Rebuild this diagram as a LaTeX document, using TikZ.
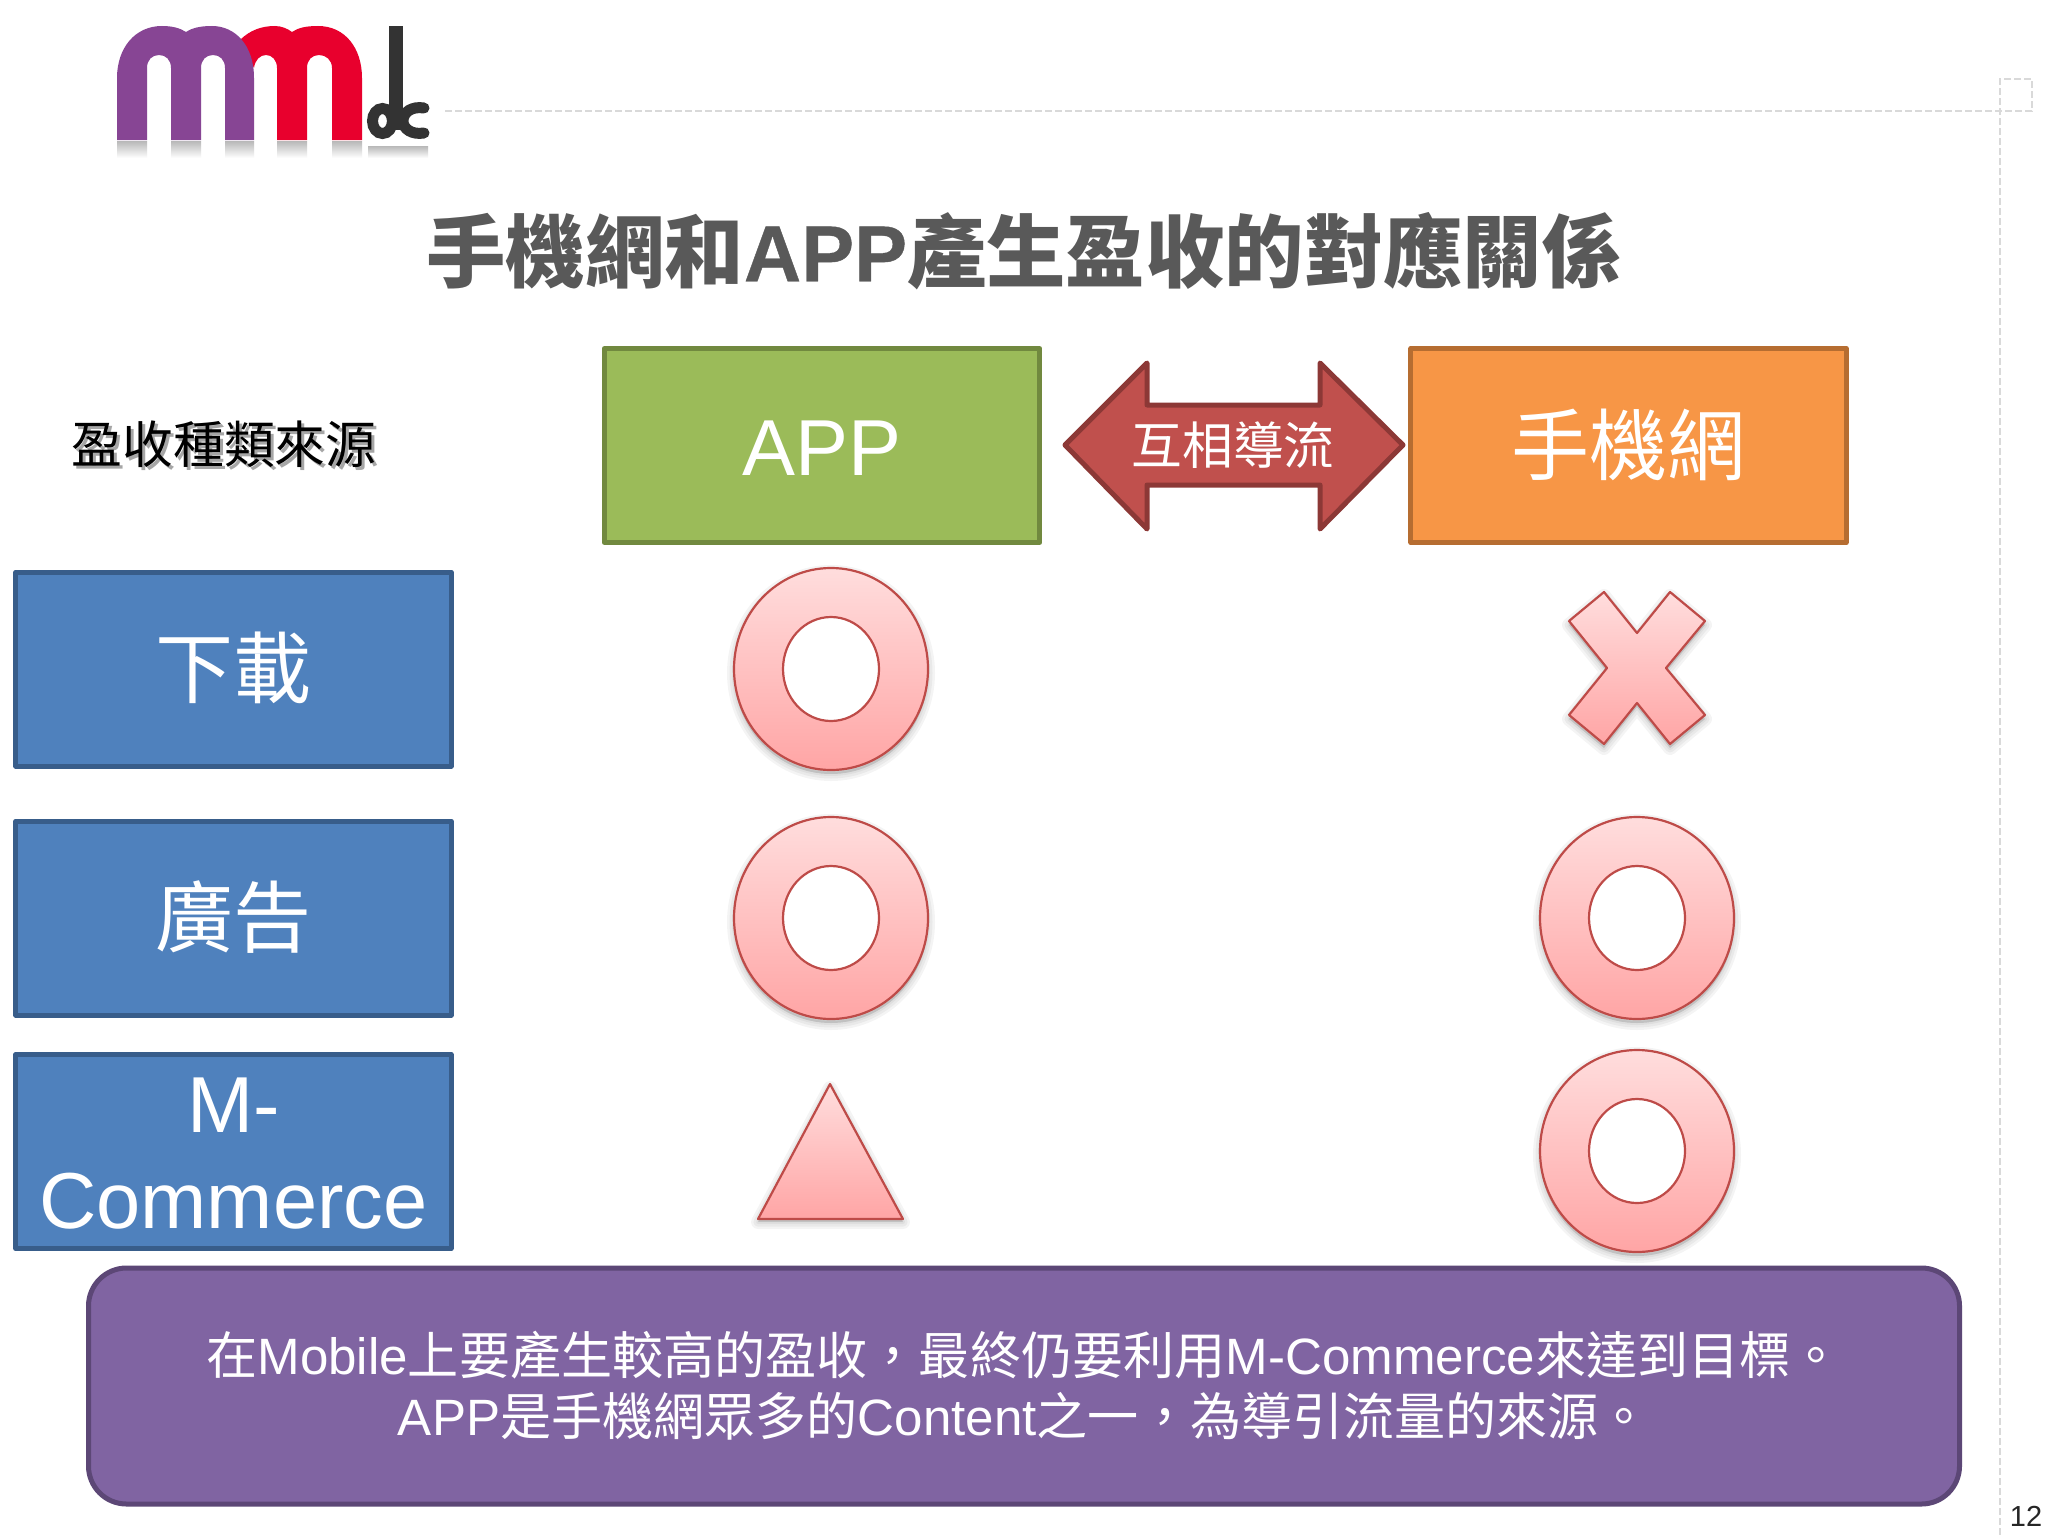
\documentclass[tikz,border=0pt]{standalone}
\usepackage{fontspec}
\setmainfont{Liberation Sans}
\newfontfamily\cjk{Noto Sans CJK TC}
\newfontfamily\latb[BoldFeatures={FakeBold=0.5}]{Liberation Sans}
\newcommand\zh[1]{{\cjk #1}}
\definecolor{ttl}{HTML}{595959}
\definecolor{grn}{HTML}{9BBB59}\definecolor{grnb}{HTML}{71893F}
\definecolor{org}{HTML}{F79646}\definecolor{orgb}{HTML}{B66D31}
\definecolor{blu}{HTML}{4F81BD}\definecolor{blub}{HTML}{385D8A}
\definecolor{redf}{HTML}{C0504D}\definecolor{redb}{HTML}{8C3836}
\definecolor{pur}{HTML}{8064A2}\definecolor{purb}{HTML}{5C4776}
\definecolor{pinkt}{HTML}{FFDDDD}\definecolor{pinkb}{HTML}{FFA5A5}
\definecolor{markb}{HTML}{BE4B48}
\definecolor{logop}{HTML}{874594}\definecolor{logor}{HTML}{E8002D}\definecolor{logok}{HTML}{333333}
\tikzset{
  x=0.5pt,y=-0.5pt,
  boxed/.style={draw,line width=2.5pt,line join=round,inner sep=0pt,minimum width=217.6pt,minimum height=97pt},
  boxtext/.style={inner sep=0pt,text=white,align=center,font=\fontsize{39.7}{48}\selectfont},
  zhbox/.style={inner sep=0pt,text=white,font=\fontsize{39}{48}\selectfont\cjk},
  markline/.style={draw=markb,line width=1.1pt,line join=round},
  markfill/.style={top color=pinkt,bottom color=pinkb},
  guide/.style={draw=black!15,line width=0.6pt,dash pattern=on 3.5pt off 1.5pt},
  reflect/.style={top color=black!28,bottom color=white,draw=none},
}
\newcommand\softshadow[1]{%
  \foreach \w in {7,4.5,2}{\path[fill=black,draw=black,opacity=.045,line width=\w pt,line join=round,yshift=-2pt] #1;}}
\newcommand\ringmark[2]{%
  \begin{scope}[shift={(#1,#2)}]
    \softshadow{(0,0) ellipse [x radius=48.5pt,y radius=50.5pt]}
    \fill[white] (0,0) ellipse [x radius=24pt,y radius=26pt];
    \path[markfill,even odd rule] (0,0) ellipse [x radius=48.5pt,y radius=50.5pt] (0,0) ellipse [x radius=24pt,y radius=26pt];
    \path[markline] (0,0) ellipse [x radius=48.5pt,y radius=50.5pt] (0,0) ellipse [x radius=24pt,y radius=26pt];
  \end{scope}}
\begin{document}
\begin{tikzpicture}
\useasboundingbox (0,0) rectangle (2048,1536);
\fill[white] (0,0) rectangle (2048,1536);
% guides
\draw[guide] (445,111) -- (2032,111) -- (2032,79) -- (2000,79) -- (2000,1536);
% logo reflections
\foreach \a/\b in {117/147,171/201,225/254,277/307,332/362}{\path[reflect] (\a,141) rectangle (\b,158);}
\path[reflect] (368,146) rectangle (428,158);
% logo
\fill[logor] (240,40) .. controls (250,30) and (262,26) .. (275,26) .. controls (282,26) and (288,29) .. (292,32)
  .. controls (298,28) and (305,26) .. (318,26) .. controls (345,26) and (362,48) .. (362,78) -- (362,140) -- (332,140) -- (332,68)
  .. controls (332,60) and (326,55) .. (319,55) .. controls (312,55) and (307,60) .. (307,68) -- (307,140) -- (277,140) -- (277,68)
  .. controls (277,60) and (272,55) .. (266,55) .. controls (260,55) and (255,60) .. (254,68) -- cycle;
\fill[logop] (117,140) -- (117,78) .. controls (117,48) and (135,26) .. (162,26) .. controls (172,26) and (180,28) .. (186,32)
  .. controls (192,28) and (200,26) .. (212,26) .. controls (235,26) and (254,45) .. (254,78) -- (254,140) -- (225,140) -- (225,68)
  .. controls (225,60) and (220,55) .. (213,55) .. controls (206,55) and (201,60) .. (201,68) -- (201,140) -- (171,140) -- (171,68)
  .. controls (171,60) and (166,55) .. (159,55) .. controls (152,55) and (147,60) .. (147,68) -- (147,140) -- cycle;
\fill[logok] (389,26) rectangle (403,130);
\draw[logok,line width=5.5pt] (382.5,121) ellipse [x radius=5pt,y radius=6.25pt];
\draw[logok,line width=5.5pt,line cap=round] (424,108) .. controls (412,106) and (403,112) .. (403,121) .. controls (403,129) and (412,135) .. (424,133);
% title
\node[font=\fontsize{39.7}{48}\selectfont\bfseries,text=ttl,inner sep=0pt] (title) at (1024,251) {\zh{手機網和}{\latb APP}\zh{產生盈收的對應關係}};
% header row
\node[font=\fontsize{25.4}{30}\selectfont\cjk,text=black!35,inner sep=0pt] (srcshadow) at (227,447) {盈收種類來源};
\node[font=\fontsize{25.4}{30}\selectfont\cjk,text=black,inner sep=0pt] (src) at (224,444) {盈收種類來源};
\node[boxed,fill=grn,draw=grnb] (app) at (822,445.5) {};
\node[boxtext] (applabel) at (822,448) {APP};
\node[boxed,fill=org,draw=orgb] (web) at (1628.5,445.5) {};
\node[zhbox] (weblabel) at (1628.5,445) {手機網};
% double arrow
\draw[fill=redf,draw=redb,line width=2.5pt,line join=round] (1065,445) -- (1147,363) -- (1147,405) -- (1320,405) -- (1320,363) -- (1403,445) -- (1320,529) -- (1320,485) -- (1147,485) -- (1147,529) -- cycle;
\node[font=\fontsize{25.4}{30}\selectfont\cjk,text=white,inner sep=0pt] (flow) at (1233,445) {互相導流};
% left column
\node[boxed,fill=blu,draw=blub] (dl) at (233.5,669) {};
\node[zhbox] (dllabel) at (233.5,667.5) {下載};
\node[boxed,fill=blu,draw=blub] (ad) at (233.5,918) {};
\node[zhbox] (adlabel) at (233.5,917.5) {廣告};
\node[boxed,fill=blu,draw=blub] (mc) at (233.5,1151.5) {};
\node[boxtext] (mclabel) at (233.5,1154) {M-\\Commerce};
% marks
\ringmark{831}{669}
\ringmark{831}{918}
\ringmark{1637}{918}
\ringmark{1637}{1151}
\softshadow{(1604,592) -- (1637,633) -- (1670,592) -- (1705,621) -- (1666,668) -- (1705,715) -- (1670,744) -- (1637,703) -- (1604,744) -- (1569,715) -- (1607,668) -- (1569,621) -- cycle}
\path[markfill,markline] (1604,592) -- (1637,633) -- (1670,592) -- (1705,621) -- (1666,668) -- (1705,715) -- (1670,744) -- (1637,703) -- (1604,744) -- (1569,715) -- (1607,668) -- (1569,621) -- cycle;
\softshadow{(830,1084) -- (903,1218) -- (758,1218) -- cycle}
\path[markfill,markline] (830,1084) -- (903,1219) -- (758,1219) -- cycle;
% summary
\node[draw=purb,fill=pur,line width=2.5pt,rounded corners=19pt,inner sep=0pt,minimum width=935.5pt,minimum height=118pt,text=white,align=center,font=\fontsize{25.55}{30.5}\selectfont] (note) at (1024,1386)
 {\zh{在}Mobile\zh{上要產生較高的盈收，最終仍要利用}M-Commerce\zh{來達到目標。}\\
  APP\zh{是手機網眾多的}Content\zh{之一，為導引流量的來源。}};
% page number
\node[font=\fontsize{14.5}{17}\selectfont,text=black!85,inner sep=0pt] (pg) at (2026,1516) {12};
\end{tikzpicture}
\end{document}
